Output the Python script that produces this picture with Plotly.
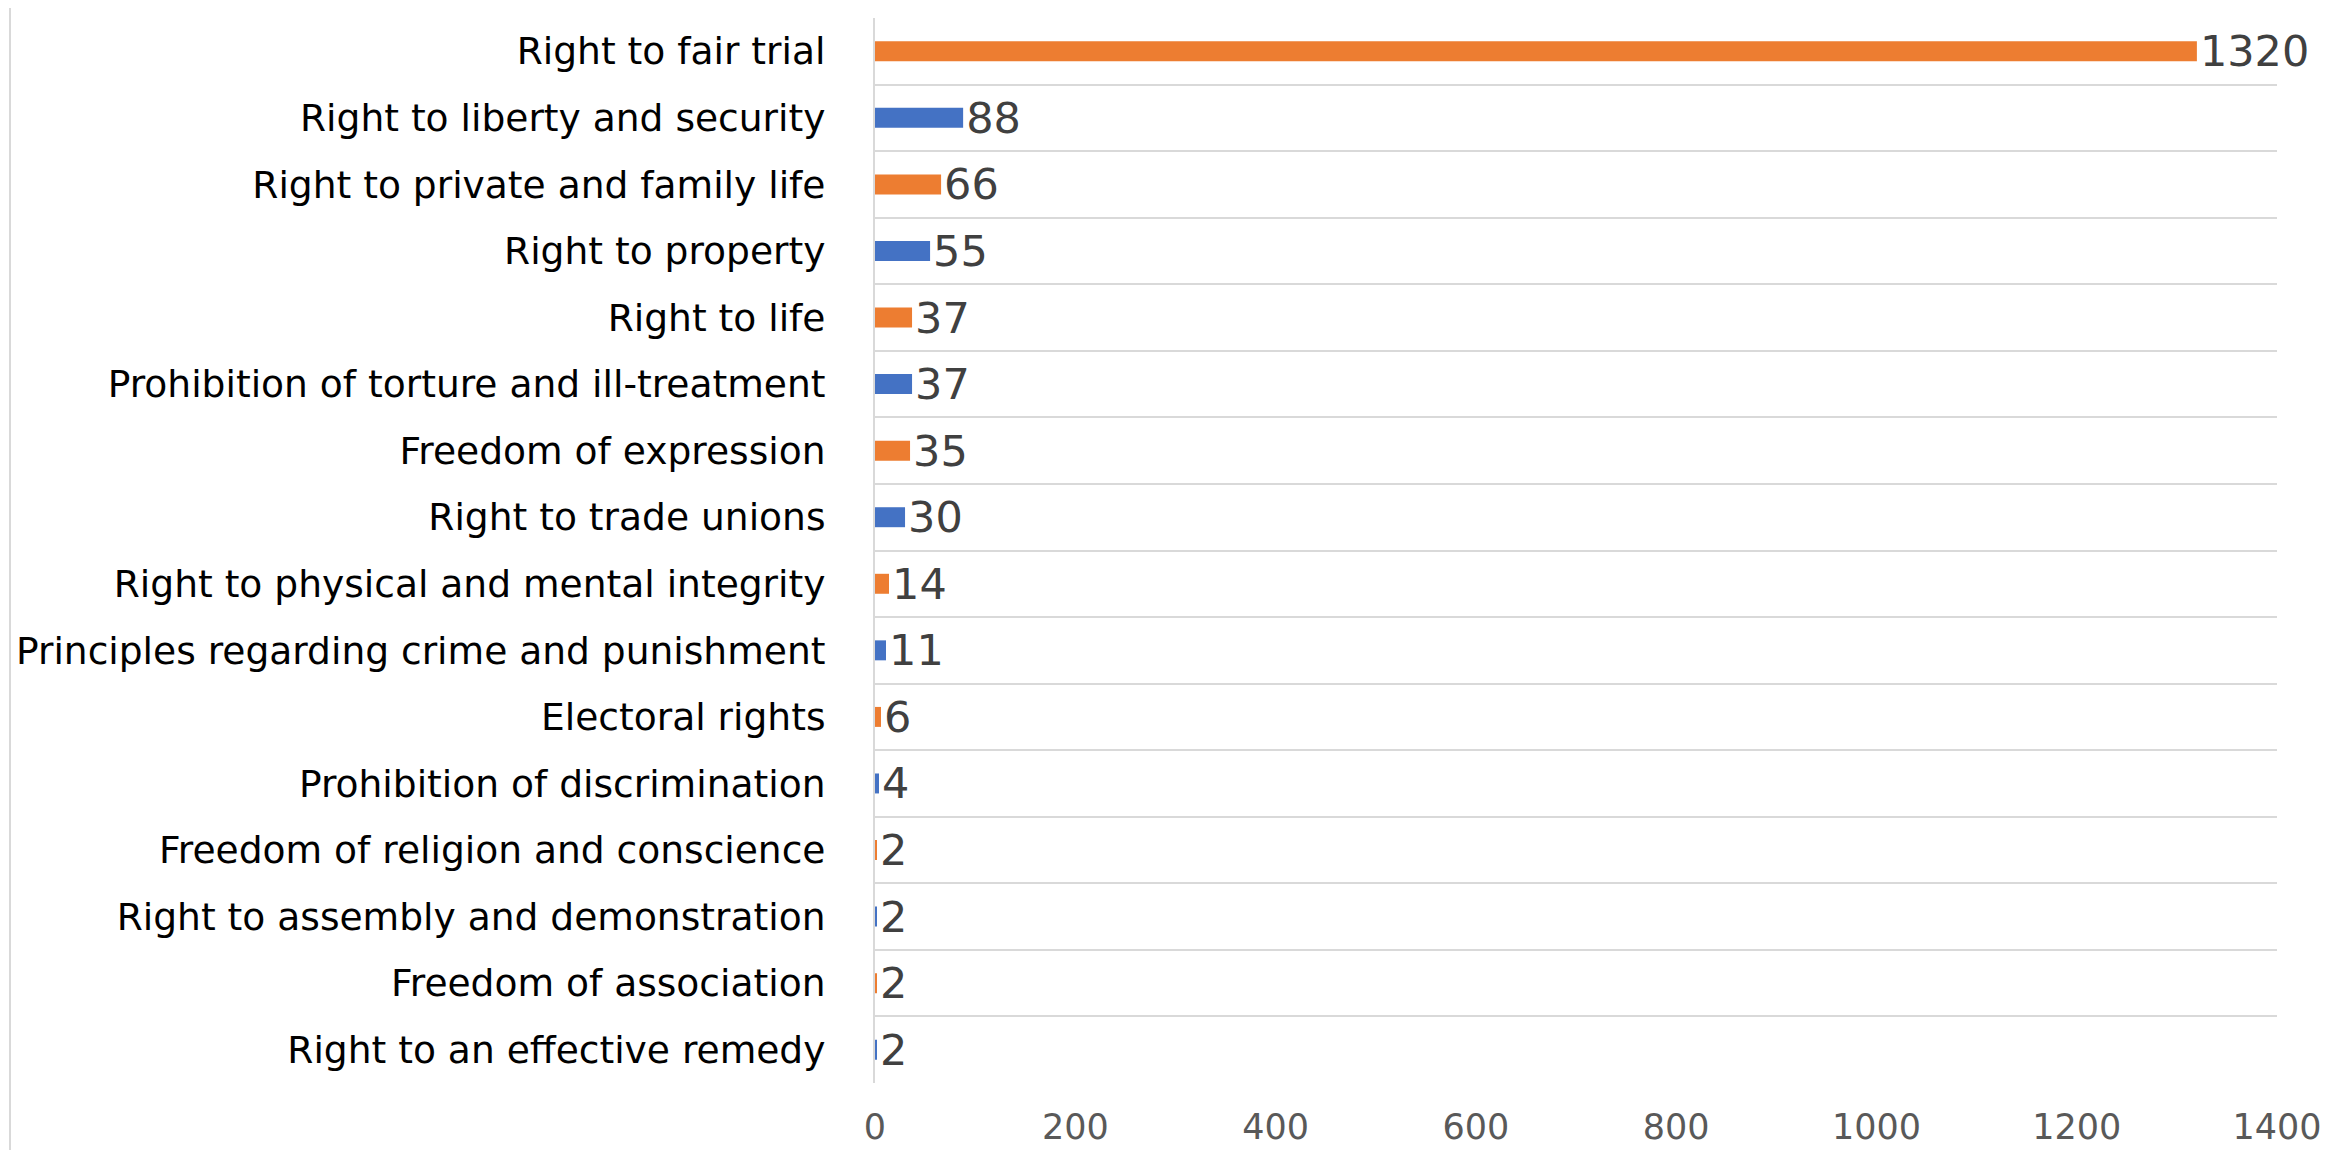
import plotly.graph_objects as go

categories = [
    "Right to fair trial",
    "Right to liberty and security",
    "Right to private and family life",
    "Right to property",
    "Right to life",
    "Prohibition of torture and ill-treatment",
    "Freedom of expression",
    "Right to trade unions",
    "Right to physical and mental integrity",
    "Principles regarding crime and punishment",
    "Electoral rights",
    "Prohibition of discrimination",
    "Freedom of religion and conscience",
    "Right to assembly and demonstration",
    "Freedom of association",
    "Right to an effective remedy",
]
values = [1320, 88, 66, 55, 37, 37, 35, 30, 14, 11, 6, 4, 2, 2, 2, 2]
x_ticks = [0, 200, 400, 600, 800, 1000, 1200, 1400]

orange = "#ED7D31"
blue = "#4472C4"
colors = [orange if i % 2 == 0 else blue for i in range(len(values))]

W, H = 2336, 1150
ml, mr, mt, mb = 867, 67, 10, 75

fig = go.Figure()
fig.add_trace(go.Bar(
    y=categories, x=values, orientation="h",
    marker=dict(color=colors, line=dict(width=0)),
    text=[str(v) for v in values], textposition="outside",
    constraintext="none",
    textfont=dict(family="DejaVu Sans", size=43, color="#404040"),
    cliponaxis=False, showlegend=False,
))

fig.update_layout(
    width=W, height=H,
    margin=dict(l=ml, r=mr, t=mt, b=mb),
    paper_bgcolor="white", plot_bgcolor="white",
    bargap=0.7,
    font=dict(family="DejaVu Sans", color="#000000"),
)
fig.update_xaxes(
    range=[0, 1400], tickvals=x_ticks, showgrid=False, zeroline=False,
    showline=False, tickfont=dict(size=35, color="#595959"),
    ticklabelstandoff=20, automargin=False,
)
fig.update_yaxes(
    categoryorder="array", categoryarray=categories[::-1],
    tickson="boundaries", showgrid=True, gridcolor="#D9D9D9", gridwidth=2,
    showline=True, linecolor="#D9D9D9", linewidth=2,
    ticks="", tickfont=dict(size=37.6, color="#000000"),
    ticklabelstandoff=40, automargin=False,
)

# thin light border around the whole chart
fig.add_shape(type="rect", xref="paper", yref="paper",
              x0=-(ml - 2) / (W - ml - mr), x1=1 + (mr - 4) / (W - ml - mr),
              y0=-(mb - 1) / (H - mt - mb), y1=1 + (mt + 20) / (H - mt - mb),
              line=dict(color="#D9D9D9", width=2), layer="below")

fig.write_html("out.html")
